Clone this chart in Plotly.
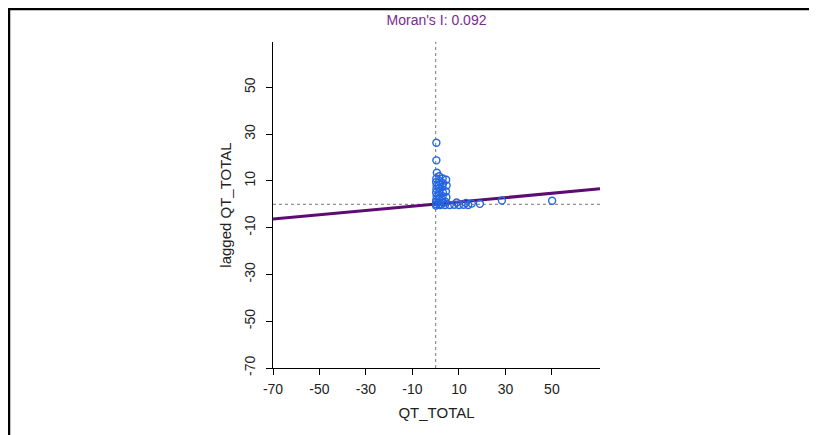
import plotly.graph_objects as go

# Data
qt_total = [0.3, 0.3, 0.5, 0.3, 0.2, 0.4, 0.3, 0.2, 0.4, 0.3, 0.2, 0.3, 0.1,
             1.5, 1.6, 1.4, 1.5, 1.6, 1.4, 1.5, 1.3, 1.6,
             3.0, 3.2, 2.9, 3.1, 3.0, 2.8, 3.2,
             4.5, 4.7, 4.4, 4.6, 4.3,
             2.0, 4.0, 6.0, 8.0, 10.0, 12.0, 14.0, 9.0, 13.0, 15.5,
             19.0, 28.5, 50.1]
lagged_qt_total = [26.3, 18.8, 13.5, 11.0, 9.5, 8.0, 6.5, 5.0, 3.5, 2.0, 1.0, 0.0, -0.5,
                   12.0, 10.0, 8.5, 7.0, 5.5, 4.0, 2.5, 1.0, 0.0,
                   11.0, 9.0, 7.5, 5.0, 3.5, 2.0, 0.5,
                   10.5, 8.0, 5.5, 3.0, 1.0,
                   -0.3, -0.3, -0.3, -0.2, -0.3, -0.2, -0.3, 0.8, 0.6, 0.3,
                   0.2, 1.6, 1.5]
morans_i = 0.092
intercept = 0.1
x_ticks = [-70, -50, -30, -10, 10, 30, 50]
y_ticks = [-70, -50, -30, -10, 10, 30, 50]
x_range = [-70, 70.7]
y_range = [-70, 69.4]

FONT = "Liberation Sans, Arial"

fig = go.Figure()

# regression line
fig.add_trace(go.Scatter(
    x=x_range,
    y=[morans_i * v + intercept for v in x_range],
    mode="lines",
    line=dict(color="#5e0c72", width=3),
    hoverinfo="skip", showlegend=False,
))

fig.add_trace(go.Scatter(
    x=qt_total, y=lagged_qt_total, mode="markers",
    marker=dict(symbol="circle-open", size=7, color="#2465e0",
                line=dict(width=1.4, color="#2465e0")),
    showlegend=False,
))

# plot area: width 327, height 326; figure 809x427 (page has 8px body margin)
L, T, PW, PH = 265, 34, 327, 326
def px_x(fx):
    return (fx - L) / PW
def px_y(fy):
    return (T + PH - fy) / PH

shapes = [
    dict(type="line", xref="x", yref="paper", x0=0, x1=0, y0=0, y1=1.0,
         line=dict(color="#777777", width=1, dash="3px,3px"), layer="below"),
    dict(type="line", xref="paper", yref="y", x0=0, x1=1, y0=0, y1=0,
         line=dict(color="#777777", width=1, dash="3px,3px"), layer="below"),
    # window frame
    dict(type="line", xref="paper", yref="paper", x0=px_x(0.5), x1=px_x(809),
         y0=px_y(1), y1=px_y(1), line=dict(color="black", width=2.5)),
    dict(type="line", xref="paper", yref="paper", x0=px_x(1), x1=px_x(1),
         y0=px_y(0), y1=px_y(427), line=dict(color="black", width=2.5)),
]

axis_common = dict(
    showline=True, linecolor="black", linewidth=1, mirror=False,
    ticks="outside", ticklen=6, tickcolor="black", tickwidth=1,
    showgrid=False, zeroline=False,
    tickfont=dict(family=FONT, size=14, color="#222"),
    title_font=dict(family=FONT, size=15, color="#222"),
)

fig.update_layout(
    width=809, height=427,
    margin=dict(l=L, r=809 - L - PW, t=T, b=427 - T - PH),
    paper_bgcolor="white", plot_bgcolor="white",
    title=dict(text="Moran's I: 0.092", x=0.5, xref="paper", xanchor="center",
               y=1 - 12 / 427, yanchor="middle",
               font=dict(family=FONT, size=14, color="#7a2a90")),
    xaxis=dict(range=x_range, tickvals=x_ticks, ticktext=[str(v) for v in x_ticks],
               ticklabelstandoff=2,
               title=dict(text="QT_TOTAL", standoff=11), **axis_common),
    yaxis=dict(range=y_range, tickvals=y_ticks, ticktext=[str(v) for v in y_ticks],
               tickangle=-90, ticklabelstandoff=5,
               title=dict(text="lagged QT_TOTAL", standoff=7), **axis_common),
    shapes=shapes,
)

fig.write_html("out.html")
